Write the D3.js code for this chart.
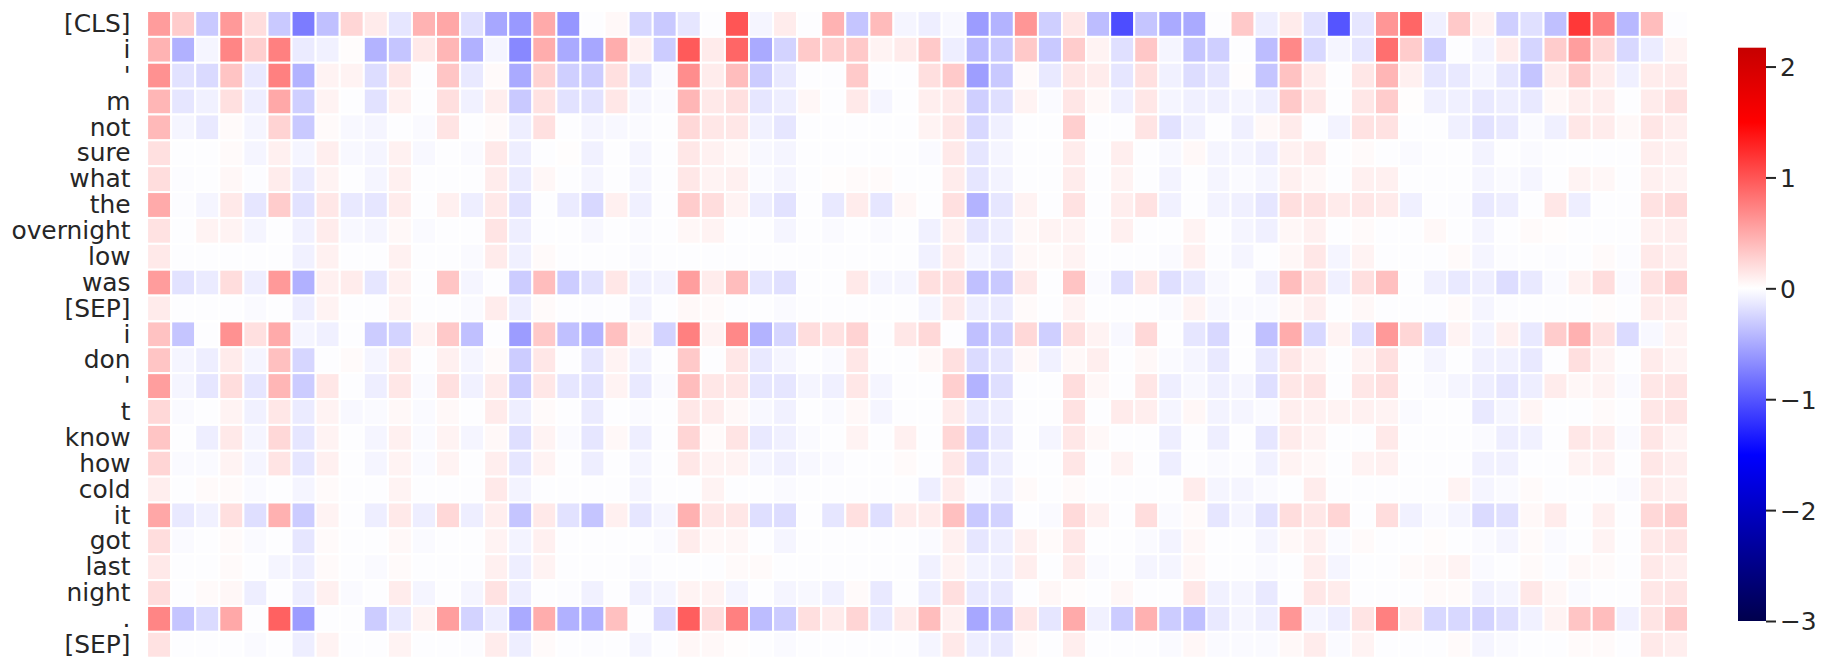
<!DOCTYPE html>
<html><head><meta charset="utf-8">
<script src="https://cdn.jsdelivr.net/npm/d3@7"></script>
<style>html,body{margin:0;padding:0;background:#fff;overflow:hidden}svg{display:block}</style>
</head><body><svg id="c" width="1831" height="670"></svg>
<script>
const tokens=["[CLS]","i","'","m","not","sure","what","the","overnight","low","was","[SEP]","i","don","'","t","know","how","cold","it","got","last","night",".","[SEP]"];
const r00=[.58,.30,-.32,.60,.20,-.32,-.77,-.37,.24,.12,-.15,.45,.52,-.18,-.52,-.60,.50,-.62,0,.04,-.25,-.32,-.15,-.01,1.0,-.06,.11,0,.45,-.34,.40,-.06,-.10,-.04,-.58,-.45,.62,-.28,.14,-.39,-1.05,-.34,-.50,-.50,0,.32,-.10,.12,-.17,-1.0,-.15,.62,.90,-.09,.32,.08,-.28,-.18,-.37,1.17,.75,-.42,.39,-.01];
const r01=[.45,-.46,-.06,.72,.28,.75,-.12,-.08,.02,-.45,-.34,.13,.43,-.46,-.06,-.70,.48,-.50,-.52,.48,.08,-.30,.97,.12,.90,-.50,-.26,.31,.28,.32,.07,.12,.32,-.10,-.40,-.31,.32,-.32,.30,.07,-.18,.33,-.06,-.34,-.28,0,-.39,.70,-.23,-.06,-.15,.85,.30,-.28,0,-.07,.11,-.25,.30,.57,.23,-.23,-.11,.07];
const r02=[.65,-.17,-.22,.35,-.13,.75,-.45,.07,.07,-.20,.14,0,.34,-.13,.03,-.50,.26,-.28,-.30,.18,-.17,-.03,.67,.11,.39,-.30,-.13,0,0,.31,0,0,.19,.31,-.57,-.32,.03,-.13,.14,.11,-.15,.18,-.08,-.20,-.15,.01,-.34,.36,.11,0,.14,.43,.09,-.15,-.13,-.06,-.15,-.34,.11,.31,.11,-.09,.11,.12];
const r03=[.43,-.15,-.08,.18,-.10,.51,-.28,.07,0,-.17,.09,0,.19,-.08,.10,-.32,.17,-.17,-.17,.14,-.06,-.03,.43,.13,.18,-.15,-.10,.05,0,.13,-.06,0,.10,.13,-.28,-.19,.07,-.03,.15,.04,-.09,.14,-.06,-.09,-.09,-.06,-.10,.32,.14,0,.14,.30,.01,-.09,-.09,-.13,-.10,-.13,.04,.10,.10,0,.12,.18];
const r04=[.41,-.06,-.13,.03,-.06,.26,-.32,.03,-.04,-.06,0,-.03,.16,0,.03,-.10,.18,0,-.06,-.04,-.03,0,.23,.14,.14,-.08,-.15,0,0,0,0,0,.07,.14,-.23,-.09,0,0,.28,0,0,.16,-.17,-.08,-.01,-.09,.04,.12,0,-.07,.17,.17,0,-.01,-.09,-.17,-.13,-.03,-.09,.14,.11,.04,.15,.10];
const r05=[.18,0,0,.03,-.06,.09,-.06,.10,-.04,-.06,.08,-.04,0,-.03,.13,-.10,0,.01,-.08,0,-.06,0,.14,.08,.04,-.04,-.06,0,0,0,0,0,-.03,.13,-.15,-.06,0,0,.11,0,.10,0,-.04,.04,-.06,-.06,-.10,.08,.11,0,.03,0,-.03,0,0,-.07,-.01,-.03,0,0,0,0,.10,.08];
const r06=[.20,-.02,0,.05,-.02,.11,-.12,.07,0,-.06,.09,0,0,0,.11,-.12,.05,0,-.06,0,-.06,0,.14,.07,.09,-.03,-.06,0,.01,.03,.03,0,0,.11,-.15,-.07,0,0,.11,0,.07,0,-.07,0,-.06,-.03,-.06,.09,.05,0,.09,.09,0,0,0,-.06,-.03,-.06,0,.07,.05,0,.09,.07];
const r07=[.50,-.02,-.06,.13,-.15,.30,-.17,.14,-.13,-.15,.11,0,.09,-.10,.13,-.17,0,-.12,-.23,.09,-.09,0,.30,.20,.07,-.10,-.17,0,-.13,.11,-.15,.05,0,.18,-.45,-.15,.07,0,.17,0,.10,.17,-.08,0,-.07,-.09,-.15,.19,.17,.12,.14,.12,-.09,0,-.02,-.13,-.10,0,.14,-.10,0,0,.17,.22];
const r08=[.17,0,.07,.07,-.06,0,-.08,.11,-.04,-.06,.04,-.03,0,-.01,.16,-.10,0,0,-.04,0,-.03,0,.05,.07,0,0,-.06,0,-.03,0,-.03,0,-.08,.09,-.15,-.10,.04,.07,.07,0,.09,0,0,.07,0,-.06,-.09,.05,.09,0,.03,0,0,.04,0,-.06,0,.03,.01,0,0,0,.09,.10];
const r09=[.13,0,0,0,0,0,-.08,.08,0,0,.08,0,0,-.03,.12,-.09,.03,0,0,0,-.03,0,0,0,0,0,0,0,0,0,0,0,-.08,.11,-.06,-.11,.04,.03,.07,0,0,0,-.03,.09,-.02,-.06,0,.05,.14,-.06,.07,0,0,0,.03,-.06,-.02,0,-.02,0,.03,-.02,.13,.10];
const r10=[.58,-.17,-.12,.20,-.10,.60,-.46,.09,.11,-.15,.09,0,.34,-.06,0,-.30,.39,-.30,-.17,.14,-.09,-.07,.57,.11,.39,-.15,-.18,0,0,.13,-.06,-.06,.19,.18,-.37,-.32,.13,0,.35,-.03,-.18,.14,-.19,-.13,-.04,0,-.09,.39,.19,-.09,.19,.37,0,-.09,-.13,-.10,-.20,-.13,-.03,.08,.20,-.03,.17,.28];
const r11=[.12,0,0,0,-.03,0,-.10,.07,0,0,.07,0,0,-.03,.11,-.10,.03,0,-.02,0,-.07,0,.04,.03,0,0,-.03,0,0,0,0,0,-.06,.13,-.10,-.12,.03,0,.07,0,0,0,-.03,.07,-.04,-.03,-.03,.05,.10,0,.04,0,0,0,.03,-.06,-.02,0,0,0,.02,0,.11,.10];
const r12=[.36,-.34,0,.65,.18,.50,-.06,-.09,0,-.30,-.26,.07,.32,-.37,0,-.58,.32,-.37,-.45,.37,.07,-.26,.75,.07,.70,-.45,-.24,.20,.17,.26,0,.14,.23,0,-.37,-.28,.23,-.28,.19,.07,-.04,.23,0,-.15,-.23,0,-.37,.49,-.23,.07,-.19,.60,.24,-.18,.07,-.07,.09,-.13,.30,.46,.17,-.21,-.04,.07];
const r13=[.34,-.06,-.10,.12,-.06,.37,-.24,0,.03,-.06,.11,0,.09,-.06,.03,-.30,.14,0,-.15,.07,-.08,0,.32,0,.14,-.13,-.06,0,-.03,.14,0,0,.04,.18,-.21,-.15,.04,-.08,.04,.10,0,.04,-.03,-.06,-.13,0,-.13,.14,.07,0,.07,.18,0,-.06,0,-.08,-.08,-.13,0,.19,.07,0,.12,.07];
const r14=[.57,-.06,-.15,.20,-.15,.43,-.30,.14,0,-.10,.14,-.03,.18,-.08,.11,-.30,.14,-.15,-.17,.07,-.13,-.03,.39,.14,.14,-.15,-.15,-.06,-.09,.14,-.06,0,0,.28,-.45,-.19,0,0,.20,.05,0,.15,-.10,-.04,-.09,-.06,-.19,.14,.16,0,.14,.19,0,-.03,-.06,-.10,-.15,-.10,.11,.05,.07,-.03,.14,.16];
const r15=[.23,-.03,0,.07,-.08,.14,-.12,.07,-.04,-.03,.04,-.03,.04,0,.12,-.10,.03,0,-.12,0,-.03,0,.14,.11,.04,-.04,-.08,0,-.03,.04,-.06,0,0,.12,-.13,-.10,0,0,.17,0,.12,.10,-.06,.05,-.07,-.06,-.03,.10,.08,.07,.08,.07,-.03,0,0,-.13,-.06,.06,0,0,.03,0,.14,.16];
const r16=[.34,0,-.10,.13,-.06,.23,-.15,.07,0,-.06,.09,-.03,.07,-.06,.04,-.19,.07,-.03,-.15,.04,-.10,0,.25,.03,.16,-.13,-.09,-.03,0,.07,0,.09,0,.24,-.28,-.13,0,-.06,.14,.04,0,0,-.10,0,-.10,0,-.15,.12,.07,0,0,.13,0,0,0,-.03,-.10,-.08,0,.14,.11,-.03,.15,.07];
const r17=[.25,-.03,-.03,.07,-.06,.16,-.15,.09,0,-.06,.07,-.03,.07,0,.10,-.15,.07,0,-.10,0,-.06,0,.14,.07,.07,-.06,-.09,-.04,-.03,0,0,.03,0,.14,-.21,-.10,0,0,.15,0,.07,0,-.10,0,-.03,-.02,-.08,.07,.04,0,.07,.09,0,0,0,-.08,-.08,0,0,.07,.09,0,.14,.10];
const r18=[.10,0,.03,.03,-.03,0,-.06,.03,0,0,.07,0,0,0,.13,-.07,0,0,0,0,-.06,0,0,.07,0,0,-.03,0,0,0,0,0,-.10,.11,-.03,-.09,.03,0,.03,0,0,0,0,.11,-.06,-.06,-.03,0,.11,0,0,0,0,0,.07,-.06,-.03,.03,0,0,0,-.03,.11,.09];
const r19=[.52,-.13,-.08,.19,-.19,.46,-.30,.07,0,-.10,.13,-.10,.23,-.10,.10,-.34,.13,-.17,-.34,.09,-.15,-.06,.46,.14,.14,-.19,-.20,0,-.15,.18,-.19,.11,.11,.37,-.32,-.26,0,-.03,.22,.09,0,.20,-.03,.03,-.15,-.06,-.17,.20,.14,.25,0,.20,-.08,-.03,-.06,-.21,-.18,.04,.11,0,.09,0,.23,.28];
const r20=[.20,-.03,0,.03,-.03,0,-.15,.03,0,0,.04,-.03,0,0,.07,-.07,.09,0,0,0,0,-.03,.11,.04,.05,0,-.06,0,0,0,0,0,-.03,.09,-.15,-.10,.09,.03,.14,0,0,-.03,-.07,.05,0,0,-.06,.04,.09,-.03,.03,0,0,.02,0,-.03,-.06,.03,-.03,0,.07,0,.13,.16];
const r21=[.13,0,0,.03,0,-.06,-.10,.03,0,-.03,.03,0,0,0,.09,-.10,.07,0,0,0,-.03,0,0,0,.03,.03,0,0,0,0,0,0,-.08,.07,-.07,-.09,.10,0,.11,-.03,0,-.06,-.06,.05,0,0,-.03,0,.10,-.06,0,0,.03,.04,.07,-.03,0,.03,-.02,.04,.03,0,.13,.10];
const r22=[.20,0,.03,.05,-.10,0,-.10,.09,-.03,0,.11,-.06,0,-.06,.17,-.10,0,-.02,-.08,0,-.08,-.06,.07,.07,-.06,0,-.06,-.04,-.08,.03,-.13,0,-.10,.19,-.13,-.13,0,.05,.02,0,.05,0,0,.14,-.08,-.06,-.13,0,.14,.11,0,0,0,.03,.03,-.08,-.06,.14,.05,-.03,0,0,.14,.16];
const r23=[.72,-.34,-.21,.51,0,.93,-.58,0,0,-.30,-.13,.07,.57,-.26,-.10,-.50,.48,-.46,-.46,.37,0,-.21,.95,.20,.75,-.39,-.30,.19,.12,.25,-.13,.12,.39,.09,-.52,-.42,.14,-.15,.50,-.08,-.30,.46,-.30,-.37,-.13,-.06,-.10,.62,-.06,-.10,.16,.75,.13,-.23,-.23,-.26,-.19,-.08,.07,.34,.39,-.08,.16,.31];
const r24=[.17,0,0,0,-.03,0,-.10,.07,0,0,.07,0,0,-.02,.11,-.10,.03,0,-.02,0,-.06,0,.05,.04,.01,0,-.03,0,0,0,0,0,-.06,.13,-.10,-.13,.03,0,.10,0,0,0,-.03,.05,-.03,-.03,-.03,.04,.11,-.03,.07,0,0,0,.03,-.06,-.03,0,0,.03,.03,0,.13,.10];
const rows=[r00,r01,r02,r03,r04,r05,r06,r07,r08,r09,r10,r11,r12,r13,r14,r15,r16,r17,r18,r19,r20,r21,r22,r23,r24];
const colorTicks=[-3,-2,-1,0,1,2];
const vmin=-3, vmax=2.17;

const svg=d3.select("#c");
const ink="#262626", font="'DejaVu Sans',sans-serif";
const x=d3.scaleBand().domain(d3.range(64)).range([147.1,1688]);
const y=d3.scaleBand().domain(d3.range(tokens.length)).range([11,657.7]);
const color=d3.scaleLinear().domain([-3,-1.5,0,1.5,3])
  .range(["rgb(0,0,77)","rgb(0,0,255)","rgb(255,255,255)","rgb(255,0,0)","rgb(128,0,0)"]);

const cells=rows.flatMap((r,ri)=>r.map((v,ci)=>({ri,ci,v})));
svg.append("g").selectAll("rect").data(cells).join("rect")
  .attr("x",d=>x(d.ci)).attr("y",d=>y(d.ri))
  .attr("width",x.bandwidth()).attr("height",y.bandwidth())
  // near-zero attributions in the reference are a barely visible cool tint, not pure white
  .attr("fill",d=>color(d.v===0?-0.012:d.v))
  .attr("stroke","#fff").attr("stroke-width",2);

svg.append("g").selectAll("text").data(tokens).join("text")
  .attr("x",130.5).attr("y",(d,i)=>y(i)+y.bandwidth()/2+8.2)
  .attr("text-anchor","end").attr("font-family",font).attr("font-size",24.9)
  .attr("fill",ink).text(d=>d);

// colour bar
const cbY=d3.scaleLinear().domain([vmin,vmax]).range([621,47.7]);
const cbX=[1738,1766];
const defs=svg.append("defs");
const grad=defs.append("linearGradient").attr("id","cb").attr("x1",0).attr("x2",0).attr("y1",1).attr("y2",0);
[vmin,-1.5,0,1.5,vmax].forEach(v=>grad.append("stop")
  .attr("offset",(v-vmin)/(vmax-vmin)).attr("stop-color",color(v)));
svg.append("rect").attr("x",cbX[0]).attr("y",cbY(vmax))
  .attr("width",cbX[1]-cbX[0]).attr("height",cbY(vmin)-cbY(vmax)).attr("fill","url(#cb)");
const axis=d3.axisRight(cbY).tickValues(colorTicks).tickSize(10).tickPadding(4)
  .tickFormat(d=>d<0?"\u2212"+Math.abs(d):String(d));
const ag=svg.append("g").attr("transform",`translate(${cbX[1]},0)`).call(axis);
ag.select(".domain").remove();
ag.selectAll("line").attr("stroke",ink).attr("stroke-width",2);
ag.selectAll("text").attr("font-family",font).attr("font-size",24.9).attr("fill",ink).attr("dy","0.36em");
</script></body></html>
